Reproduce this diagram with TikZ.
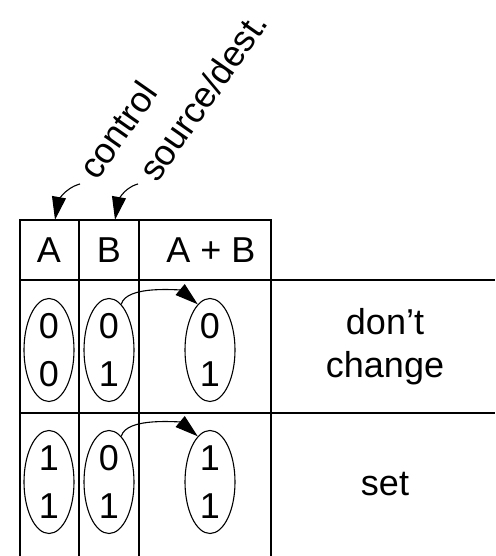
\documentclass[tikz,border=0pt]{standalone}
\usepackage{fontspec}
\setmainfont{Liberation Sans}
\usetikzlibrary{arrows.meta,shapes.geometric}

\begin{document}
\begin{tikzpicture}[x=1pt,y=1pt,
	txt/.style={font=\fontsize{36}{43}\selectfont},
	bit/.style={ellipse,draw,line width=1.1pt,minimum width=50pt,minimum height=103pt,inner sep=0pt},
	flow/.style={-{Triangle[length=23pt,width=14pt]},line width=1.1pt},
	grid/.style={line width=1.5pt}]
			\useasboundingbox (0,0) rectangle (495,556);
			% Vẽ bảng
			\draw [grid] (20,0) -- (20,336) -- (271,336) -- (271,0);
			\draw [grid] (79,0) -- (79,336);
			\draw [grid] (139,0) -- (139,336);
			\draw [grid] (20,276) -- (495,276);
			\draw [grid] (20,143) -- (495,143);
			% Tiêu đề cột
			\node [txt,minimum height=60pt] (hA) at (49,306) {A};
			\node [txt,minimum height=60pt] (hB) at (109,306) {B};
			\node [txt] (hAB) at (211,306) {A + B};
			\node [txt,rotate=55,anchor=base west,inner sep=0pt] (lblCtrl) at (97,374) {control};
			\node [txt,rotate=55,anchor=base west,inner sep=0pt] (lblSrc) at (157,372) {source/dest.};
			\coordinate (ctrlEnd) at (80,372);
			\coordinate (srcEnd) at (138,372);
			\draw [flow] (ctrlEnd) to[out=195,in=80] ([xshift=6pt]hA.north);
			\draw [flow] (srcEnd) to[out=195,in=80] ([xshift=6pt]hB.north);
			% Các cặp bit
			\foreach \n/\x/\y/\t/\b in {a1/49/206/0/0, b1/109/206/0/1, s1/210/206/0/1,
				a2/49/74/1/1, b2/109/74/0/1, s2/210/74/1/1}
			{
			\node [bit] (\n) at (\x,\y) {};
			\node [txt] at (\x,\y+24) {\t};
			\node [txt] at (\x,\y-24) {\b};
			}
			\draw [flow] (b1.75) to[out=75,in=140,looseness=0.7] (s1.105);
			\draw [flow] (b2.75) to[out=75,in=140,looseness=0.7] (s2.105);
			% Kết quả
			\node [txt,align=center] (keep) at (385,209) {don’t\\change};
			\node [txt] (set) at (385,72) {set};
\end{tikzpicture}
\end{document}
